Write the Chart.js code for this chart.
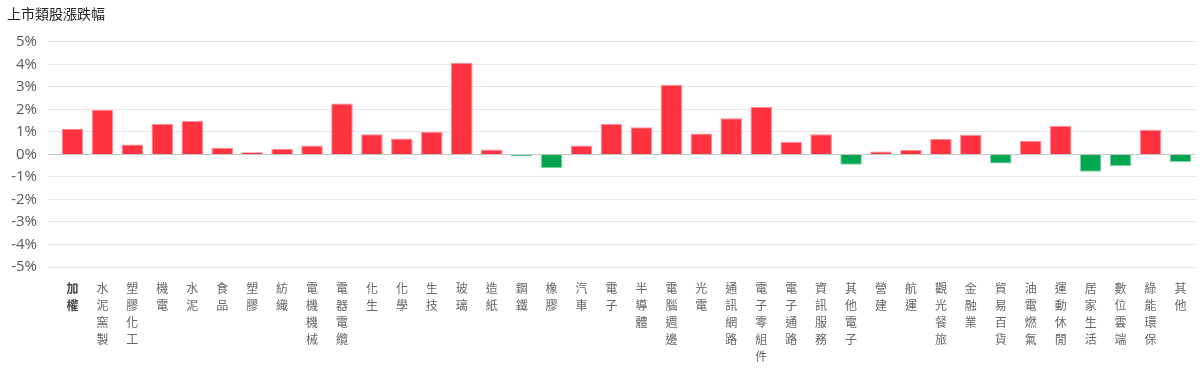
<!DOCTYPE html>
<html>
<head>
<meta charset="utf-8">
<script src="https://cdn.jsdelivr.net/npm/chart.js@4"></script>
<style>
  html, body { margin: 0; padding: 0; background: #ffffff; }
  #wrap { width: 1200px; height: 380px; position: relative; }
</style>
</head>
<body>
<div id="wrap"><canvas id="c"></canvas></div>
<script>
const titleText = '上市類股漲跌幅';
const categories = ['加權','水泥窯製','塑膠化工','機電','水泥','食品','塑膠','紡織','電機機械','電器電纜','化生','化學','生技','玻璃','造紙','鋼鐵','橡膠','汽車','電子','半導體','電腦週邊','光電','通訊網路','電子零組件','電子通路','資訊服務','其他電子','營建','航運','觀光餐旅','金融業','貿易百貨','油電燃氣','運動休閒','居家生活','數位雲端','綠能環保','其他'];
const changes = [1.14,1.98,0.44,1.35,1.48,0.30,0.10,0.25,0.40,2.26,0.89,0.71,0.99,4.07,0.22,-0.07,-0.61,0.40,1.35,1.21,3.09,0.93,1.61,2.10,0.56,0.90,-0.46,0.13,0.19,0.68,0.87,-0.40,0.61,1.27,-0.77,-0.53,1.10,-0.34];
const yMin = -5, yMax = 5, yStep = 1;

const upFill = '#ff333f', upBorder = '#ff8c94';
const downFill = '#00a650', downBorder = '#7fd3a6';
const latin = "'Open Sans', 'Noto Sans CJK TC', sans-serif";
const cjk = "'Noto Sans CJK TC', 'Open Sans', sans-serif";

new Chart(document.getElementById('c'), {
  type: 'bar',
  data: {
    labels: categories.map(s => Array.from(s)),
    datasets: [{
      data: changes,
      backgroundColor: ctx => (ctx.raw >= 0 ? upFill : downFill),
      borderColor: ctx => (ctx.raw >= 0 ? upBorder : downBorder),
      borderWidth: 1,
      borderSkipped: 'start'
    }]
  },
  options: {
    responsive: true,
    maintainAspectRatio: false,
    animation: false,
    layout: { padding: { left: 7, right: 2, top: 0, bottom: 2 } },
    plugins: {
      legend: { display: false },
      tooltip: { enabled: false },
      title: {
        display: true,
        text: titleText,
        align: 'start',
        color: '#222222',
        font: { family: cjk, size: 14, weight: 'normal', lineHeight: 1.2 },
        padding: { top: 5, bottom: 20 }
      }
    },
    scales: {
      x: {
        grid: { display: false, drawTicks: false },
        border: { display: false },
        ticks: {
          autoSkip: false,
          maxRotation: 0,
          minRotation: 0,
          padding: 13.5,
          color: ctx => (ctx.index === 0 ? '#444444' : '#666666'),
          font: ctx => ({ family: cjk, size: 12, lineHeight: 1.4, weight: ctx.index === 0 ? 'bold' : 'normal' })
        }
      },
      y: {
        min: yMin,
        max: yMax,
        afterFit: s => { s.width = 50.5; },
        grid: {
          drawTicks: true,
          tickLength: 9,
          lineWidth: 1,
          color: ctx => (ctx.tick && ctx.tick.value === 0 ? '#c4c4c4' : '#e6e6e6')
        },
        border: { display: false },
        ticks: {
          stepSize: yStep,
          padding: 11.5,
          color: '#595959',
          font: { family: latin, size: 15 },
          callback: v => v + '%'
        }
      }
    }
  }
});
</script>
</body>
</html>
